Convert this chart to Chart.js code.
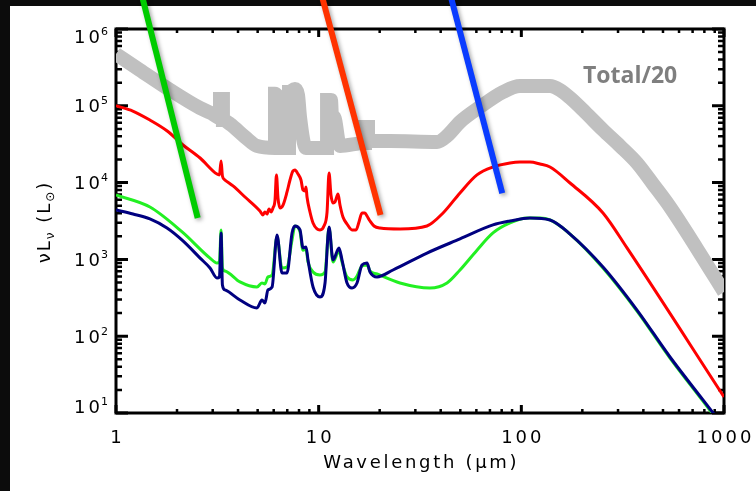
<!DOCTYPE html>
<html>
<head>
<meta charset="utf-8">
<script src="https://cdn.jsdelivr.net/npm/chart.js@4.4.1/dist/chart.umd.min.js"></script>
<style>
  html, body { margin: 0; padding: 0; background: #0c0c0c; }
  canvas { display: block; }
</style>
</head>
<body>
<canvas id="sed" width="756" height="491"></canvas>
<script>
// wavelength in micron, nu*L_nu in solar luminosities

// total SED divided by 20 (thick grey band, coarse sampling through the PAH bands)
const totalWave = [1.0, 1.313, 1.847, 2.60, 2.943, 3.26, 3.26, 3.37, 3.37, 3.65, 4.33, 4.96, 6.09, 6.09, 6.52, 6.52, 7.14, 7.14, 7.64, 7.91,
  8.09, 8.66, 11.0, 11.0, 11.5, 11.64, 11.9, 12.74, 16.93, 16.93, 17.51, 17.51, 22.49, 38.36, 42.98, 49.81, 62.52, 81.21, 98.5, 138.5,
  155.1, 173.9, 206.1, 252.9, 306.8, 372.2, 446.2, 541.5, 738.3, 1000];
const totalFlux = [4.72e5, 2.92e5, 1.61e5, 9.35e4, 8.05e4, 6.93e4, 1.23e5, 1.23e5, 6.53e4, 5.80e4, 3.93e4, 3.00e4, 2.82e4, 1.43e5, 1.23e5, 2.82e4, 2.82e4, 1.51e5, 1.66e5, 1.38e5,
  7.15e4, 2.82e4, 2.82e4, 1.19e5, 1.19e5, 7.15e4, 7.15e4, 3.00e4, 3.28e4, 5.30e4, 5.30e4, 3.48e4, 3.48e4, 3.38e4, 4.05e4, 6.15e4, 9.64e4, 1.51e5, 1.81e5, 1.81e5,
  1.61e5, 1.27e5, 8.30e4, 4.84e4, 3.00e4, 1.80e4, 9590, 4810, 1360, 376];

// red model
const redWave = [1.0, 1.21, 1.47, 1.79, 2.14, 2.60, 3.15, 3.24, 3.30, 3.35, 3.45, 3.78, 4.33, 5.13, 5.31, 5.43, 5.56, 5.69, 5.82, 5.95,
  6.09, 6.19, 6.30, 6.45, 6.67, 6.98, 7.22, 7.47, 7.64, 7.91, 8.18, 8.37, 8.56, 8.66, 8.76, 9.06, 9.38, 9.81, 10.15, 10.62,
  11.0, 11.25, 11.5, 11.77, 12.04, 12.46, 12.74, 13.18, 13.8, 14.61, 15.29, 15.81, 16.36, 16.93, 17.32, 17.92, 18.75, 20.07, 25.2, 34.2,
  41.1, 49.8, 60.4, 72.5, 87.9, 98.5, 110.3, 123.6, 138.5, 173.9, 252.9, 332.2, 1000];
const redFlux = [1.0e5, 85500, 65300, 47000, 30900, 20900, 12900, 12600, 19100, 12200, 10800, 9040, 6490, 4270, 3790, 4140, 3900, 4530, 4140, 4670,
  5930, 12600, 6290, 4670, 5100, 7550, 10800, 14200, 14600, 12900, 10800, 8020, 7780, 8770, 6490, 4140, 2980, 2490, 2420, 2720,
  4140, 13300, 6900, 5420, 5590, 7110, 5100, 3560, 2890, 2420, 2420, 3070, 4020, 4020, 3670, 3160, 2720, 2560, 2490, 2720,
  4020, 7330, 12600, 15960, 18000, 18500, 18500, 17460, 15960, 9880, 4020, 1410, 16.2];

// green model
const greenWave = [1.0, 1.47, 2.12, 2.91, 3.15, 3.24, 3.30, 3.35, 3.45, 4.09, 4.96, 5.25, 5.43, 5.62, 5.89, 6.23, 6.59, 6.98, 7.39, 7.64,
  8.09, 8.37, 8.66, 8.86, 9.38, 10.15, 10.75, 11.25, 11.77, 12.60, 13.04, 13.80, 14.77, 15.46, 16.36, 17.32, 17.92, 19.41, 25.19, 35.42,
  42.98, 49.81, 60.42, 72.47, 87.9, 106.7, 123.6, 138.5, 173.9, 252.9, 372.2, 541.5, 787.6, 1000];
const greenFlux = [6900, 4810, 2280, 1040, 898, 925, 2420, 773, 706, 509, 437, 493, 479, 591, 627, 1960, 773, 797, 1790, 2720,
  2280, 1320, 1360, 925, 686, 627, 686, 2560, 925, 1290, 925, 591, 540, 608, 821, 846, 706, 646, 493, 424,
  493, 728, 1320, 2210, 2980, 3460, 3460, 3260, 2140, 773, 213, 52, 14.3, 6.2];

// navy model
const navyWave = [1.0, 1.213, 1.47, 1.785, 2.14, 2.60, 2.91, 3.15, 3.24, 3.30, 3.35, 3.45, 4.09, 4.96, 5.25, 5.43, 5.62, 5.89, 6.23, 6.59,
  6.98, 7.39, 7.64, 8.09, 8.37, 8.66, 8.86, 9.38, 10.15, 10.75, 11.25, 11.77, 12.60, 13.04, 13.80, 14.61, 15.46, 16.36, 17.32, 17.92,
  19.41, 23.27, 34.24, 49.81, 72.47, 87.9, 110.3, 138.5, 173.9, 252.9, 372.2, 541.5, 787.6, 1000];
const navyFlux = [4400, 3900, 3360, 2560, 1740, 1040, 773, 573, 591, 2210, 464, 400, 296, 233, 296, 270, 400, 437, 2080, 666,
  666, 2210, 2720, 2420, 1410, 1450, 982, 437, 324, 493, 2640, 982, 1410, 982, 493, 424, 493, 846, 898, 686,
  591, 728, 1210, 1850, 2810, 3160, 3460, 3260, 2140, 797, 219, 53.6, 14.8, 6.57];

// straight marker strokes drawn over the plot (end points)
const greenSlashWave = [1.344, 2.53];
const greenSlashFlux = [2.69e6, 3460];
const redSlashWave = [10.37, 20.19];
const redSlashFlux = [2.69e6, 3785];
const blueSlashWave = [44.8, 80.5];
const blueSlashFlux = [2.69e6, 7256];

// axis labels
const xTickLabels = [1, 10, 100, 1000];
const yTickPowers = [1, 2, 3, 4, 5, 6];

const pairs = (w, f) => w.map((x, i) => ({ x: x, y: f[i] }));

function curve(w, f, color, width, order) {
  return {
    data: pairs(w, f),
    showLine: true,
    borderColor: color,
    borderWidth: width,
    pointRadius: 0,
    fill: false,
    cubicInterpolationMode: 'monotone',
    order: order
  };
}

function slash(w, f, color) {
  return {
    data: pairs(w, f),
    showLine: true,
    borderColor: color,
    borderWidth: 6,
    borderCapStyle: 'butt',
    pointRadius: 0,
    fill: false,
    clip: false,
    shadow: true,
    order: 1
  };
}

const totalSet = curve(totalWave, totalFlux, '#c0c0c0', 14, 10);

const AXIS_FONT = '"DejaVu Sans", sans-serif';

// black backdrop with the white slide panel
const backdrop = {
  id: 'backdrop',
  beforeDraw(chart) {
    const ctx = chart.ctx;
    ctx.save();
    ctx.fillStyle = '#0c0c0c';
    ctx.fillRect(0, 0, chart.width, chart.height);
    ctx.fillStyle = '#ffffff';
    ctx.fillRect(10, 6, chart.width - 10, chart.height - 6);
    ctx.restore();
  }
};

// IDL style box with inward ticks on all four sides
const idlFrame = {
  id: 'idlFrame',
  beforeDatasetsDraw(chart) {
    const { ctx, chartArea: a, scales: { x, y } } = chart;
    ctx.save();
    ctx.strokeStyle = '#000';
    ctx.lineCap = 'butt';

    for (let d = 0; d <= 3; d++) {
      for (let k = 1; k <= 9; k++) {
        const v = k * Math.pow(10, d);
        if (v > 1000) break;
        const px = x.getPixelForValue(v);
        const len = k === 1 ? 8 : 4;
        ctx.lineWidth = k === 1 ? 3 : 2.5;
        ctx.beginPath();
        ctx.moveTo(px, a.bottom); ctx.lineTo(px, a.bottom - len);
        ctx.moveTo(px, a.top); ctx.lineTo(px, a.top + len);
        ctx.stroke();
      }
    }
    for (let d = 1; d <= 6; d++) {
      for (let k = 1; k <= 9; k++) {
        const v = k * Math.pow(10, d);
        if (v > 1e6) break;
        const py = y.getPixelForValue(v);
        const len = k === 1 ? 12 : 6;
        ctx.lineWidth = k === 1 ? 3 : 2.5;
        ctx.beginPath();
        ctx.moveTo(a.left, py); ctx.lineTo(a.left + len, py);
        ctx.moveTo(a.right, py); ctx.lineTo(a.right - len, py);
        ctx.stroke();
      }
    }
    ctx.lineWidth = 3;
    ctx.strokeRect(a.left, a.top, a.right - a.left, a.bottom - a.top);
    ctx.restore();
  },

  afterDraw(chart) {
    const { ctx, chartArea: a, scales: { x, y } } = chart;
    ctx.save();
    ctx.fillStyle = '#000';

    // x tick labels
    ctx.font = '18px ' + AXIS_FONT;
    ctx.letterSpacing = '3px';
    ctx.textAlign = 'center';
    ctx.textBaseline = 'alphabetic';
    xTickLabels.forEach(v => {
      ctx.fillText(String(v), x.getPixelForValue(v) + 1.5, 443);
    });

    // y tick labels 10^n, end labels kept inside the box
    yTickPowers.forEach(p => {
      const py = y.getPixelForValue(Math.pow(10, p));
      const cy = Math.min(Math.max(py, a.top + 7.5), a.bottom - 6.5);
      ctx.font = '18px ' + AXIS_FONT;
      ctx.letterSpacing = '3px';
      ctx.textAlign = 'right';
      ctx.fillText('10', 103, cy + 6.5);
      ctx.font = '11px ' + AXIS_FONT;
      ctx.letterSpacing = '0px';
      ctx.textAlign = 'left';
      ctx.fillText(String(p), 101, cy - 1.5);
    });

    // x title
    ctx.font = '18px ' + AXIS_FONT;
    ctx.letterSpacing = '2.7px';
    ctx.textAlign = 'center';
    ctx.fillText('Wavelength (\u03bcm)', (a.left + a.right) / 2 + 1.3, 468);

    // y title, rotated, with subscripts
    ctx.letterSpacing = '2px';
    const runs = [
      { t: '\u03bd', size: 18, dy: 0 },
      { t: 'L', size: 18, dy: 0 },
      { t: '\u03bd', size: 12, dy: 4 },
      { t: ' (', size: 18, dy: 0 },
      { t: 'L', size: 18, dy: 0 },
      { t: '\u2299', size: 12, dy: 4 },
      { t: ')', size: 18, dy: 0 }
    ];
    let total = 0;
    runs.forEach(r => {
      ctx.font = r.size + 'px ' + AXIS_FONT;
      r.w = ctx.measureText(r.t).width;
      total += r.w;
    });
    ctx.translate(50, 222);
    ctx.rotate(-Math.PI / 2);
    ctx.textAlign = 'left';
    let pos = -total / 2;
    runs.forEach(r => {
      ctx.font = r.size + 'px ' + AXIS_FONT;
      ctx.fillText(r.t, pos, r.dy);
      pos += r.w;
    });
    ctx.restore();

    // component label
    ctx.save();
    ctx.font = 'bold 23px "Open Sans", sans-serif';
    ctx.fillStyle = '#7f7f7f';
    ctx.textAlign = 'left';
    ctx.fillText('Total/20', 583, 83);
    ctx.restore();
  }
};

// soft drop shadow under the marker strokes
const strokeShadow = {
  id: 'strokeShadow',
  beforeDatasetDraw(chart, args) {
    if (!chart.data.datasets[args.index].shadow) return;
    const ctx = chart.ctx;
    ctx.save();
    ctx.shadowColor = 'rgba(0, 0, 0, 0.35)';
    ctx.shadowBlur = 4;
    ctx.shadowOffsetX = 2;
    ctx.shadowOffsetY = 2;
  },
  afterDatasetDraw(chart, args) {
    if (!chart.data.datasets[args.index].shadow) return;
    chart.ctx.restore();
  }
};

new Chart(document.getElementById('sed'), {
  type: 'scatter',
  data: {
    datasets: [
      totalSet,
      curve(redWave, redFlux, '#ff0000', 3, 8),
      curve(greenWave, greenFlux, '#22f022', 3, 7),
      curve(navyWave, navyFlux, '#000080', 3, 6),
      slash(greenSlashWave, greenSlashFlux, '#00cc00'),
      slash(redSlashWave, redSlashFlux, '#ff3300'),
      slash(blueSlashWave, blueSlashFlux, '#0a3cff')
    ]
  },
  options: {
    responsive: false,
    animation: false,
    devicePixelRatio: 1,
    layout: { padding: { left: 116, top: 29, right: 32, bottom: 78 } },
    plugins: { legend: { display: false }, tooltip: { enabled: false } },
    scales: {
      x: { type: 'logarithmic', min: 1, max: 1000, display: false },
      y: { type: 'logarithmic', min: 10, max: 1e6, display: false }
    }
  },
  plugins: [backdrop, idlFrame, strokeShadow]
});
</script>
</body>
</html>
